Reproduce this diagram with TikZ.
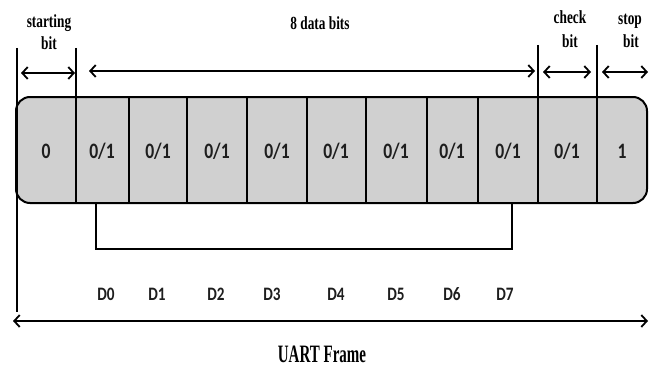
\documentclass[tikz,border=0pt]{standalone}
\usepackage{fontspec}
\usetikzlibrary{arrows.meta}

% condensed serif for the captions, condensed Carlito for the bit values
\newfontfamily\capfont[FakeStretch=0.72]{Liberation Serif}
\newfontfamily\titlefont[FakeStretch=0.6]{Liberation Serif}
\newfontfamily\bitfont[FakeStretch=0.8]{Carlito}

\definecolor{cellfill}{RGB}{208,208,208}
\definecolor{bittext}{RGB}{30,30,30}

\tikzset{
  frameline/.style={line width=2pt, draw=black, fill=cellfill, rounded corners=14pt},
  divider/.style={line width=1.4pt, draw=black},
  span/.style={line width=1.8pt, {Straight Barb[length=5.5pt,width=12pt]}-{Straight Barb[length=5.5pt,width=12pt]}},
  caption/.style={font=\capfont\bfseries\fontsize{18.5}{22}\selectfont, anchor=base, inner sep=0pt},
  bitval/.style={font=\bitfont\bfseries\fontsize{22}{26}\selectfont, text=bittext, inner sep=0pt},
  dlabel/.style={font=\bitfont\bfseries\fontsize{19}{22}\selectfont, text=bittext, inner sep=0pt},
}

\begin{document}
\begin{tikzpicture}[x=1pt, y=-1pt]
  \useasboundingbox (0,0) rectangle (650,369);

  % frame body
  \draw[frameline] (16,97) rectangle (647,203);

  % inner cell dividers
  \foreach \x [count=\i] in {129,187,247,307,366,427,478} {
    \coordinate (dt\i) at (\x,97);
    \coordinate (db\i) at (\x,203);
    \draw[divider] (dt\i) -- (db\i);
  }

  % long dividers marking the field boundaries
  \coordinate (lineLtop) at (17,48);   \coordinate (lineLbot) at (17,312);
  \coordinate (startTop) at (76,48);   \coordinate (startBot) at (76,203);
  \coordinate (checkTop) at (538,45);  \coordinate (checkBot) at (538,203);
  \coordinate (stopTop)  at (597,45);  \coordinate (stopBot)  at (597,203);
  \draw[divider] (lineLtop) -- (lineLbot);
  \draw[divider] (startTop) -- (startBot);
  \draw[divider] (checkTop) -- (checkBot);
  \draw[divider] (stopTop) -- (stopBot);

  % field span arrows
  \coordinate (sa1) at (21,73);  \coordinate (sa2) at (75,73);
  \coordinate (da1) at (89,71);  \coordinate (da2) at (535,71);
  \coordinate (ca1) at (543,72); \coordinate (ca2) at (591,72);
  \coordinate (pa1) at (602,72); \coordinate (pa2) at (648,72);
  \draw[span] (sa1) -- (sa2);
  \draw[span] (da1) -- (da2);
  \draw[span] (ca1) -- (ca2);
  \draw[span] (pa1) -- (pa2);

  % field captions
  \node[caption] (startA) at (49,28) {starting};
  \node[caption] (startB) at (49,50) {bit};
  \node[caption] (dataA)  at (320,30) {8 data bits};
  \node[caption] (checkA) at (570,24) {check};
  \node[caption] (checkB) at (570,48) {bit};
  \node[caption] (stopA)  at (630,25) {stop};
  \node[caption] (stopB)  at (631,48) {bit};

  % bit values
  \node[bitval] (c0) at (46,151) {0};
  \foreach \x [count=\i] in {102,158,217,277,336,396,452,508,567} {
    \node[bitval] (c\i) at (\x,151) {0/1};
  }
  \node[bitval] (c10) at (622,151) {1};

  % bracket grouping the data bits
  \coordinate (br1) at (96,203);
  \coordinate (br2) at (512,203);
  \draw[divider] (br1) -- ++(0,46) -| (br2);

  % data bit names
  \foreach \x [count=\i from 0] in {106,157,216,272,336,396,452,505} {
    \node[dlabel] (d\i) at (\x,294) {D\i};
  }

  % whole frame span
  \coordinate (fr1) at (13,321);
  \coordinate (fr2) at (648,321);
  \draw[span] (fr1) -- (fr2);
  \node[anchor=base, inner sep=0pt, font=\titlefont\bfseries\fontsize{25}{29}\selectfont] (title) at (322,362) {UART Frame};
\end{tikzpicture}
\end{document}
